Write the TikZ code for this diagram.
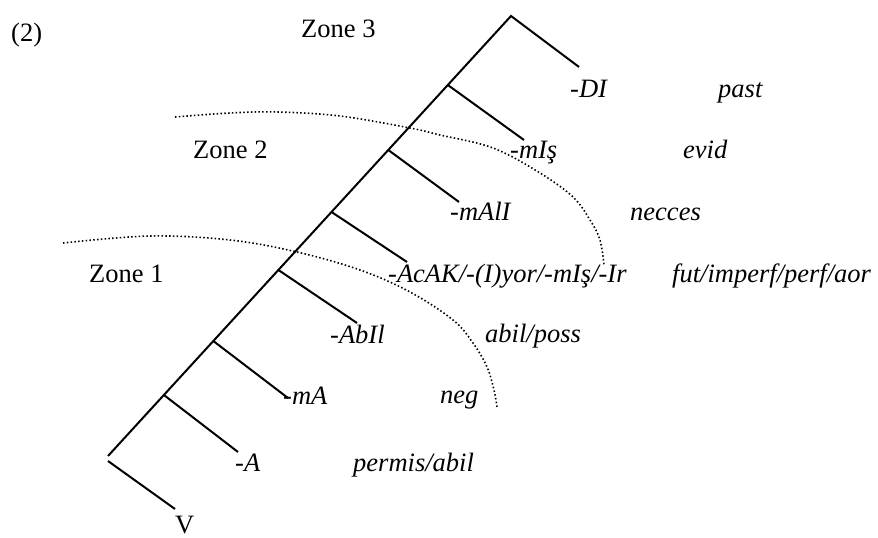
\documentclass[tikz,border=0pt]{standalone}
\usepackage{fontspec}
\setmainfont{Liberation Serif}
\begin{document}
\begin{tikzpicture}[x=1pt,y=-1pt,
  treeline/.style={line width=2pt},
  zoneline/.style={line width=1.6pt, dash pattern=on 1.5pt off 2.3pt},
  lbl/.style={inner sep=0pt, anchor=base west, font=\fontsize{26.5}{30}\selectfont},
  morph/.style={lbl, font=\fontsize{26.5}{30}\selectfont\itshape}]
\useasboundingbox (0,0) rectangle (878,538);
% spine
\coordinate (bot) at (108,456);
\coordinate (top) at (511,16);
\coordinate (tend) at (579,67);
\coordinate (vst) at (108,461);
\coordinate (vend) at (175,509);
\coordinate (s1) at (447.8,85);  \coordinate (e1) at (524,140);
\coordinate (s2) at (388.3,150); \coordinate (e2) at (459,202);
\coordinate (s3) at (331.5,212); \coordinate (e3) at (407,262);
\coordinate (s4) at (278.4,270); \coordinate (e4) at (357,323);
\coordinate (s5) at (213.3,341); \coordinate (e5) at (288,398);
\coordinate (s6) at (163.9,395); \coordinate (e6) at (238,452);
\draw[treeline] (bot) -- (top) -- (tend);
\draw[treeline] (vst) -- (vend);
\draw[treeline] (s1) -- (e1);
\draw[treeline] (s2) -- (e2);
\draw[treeline] (s3) -- (e3);
\draw[treeline] (s4) -- (e4);
\draw[treeline] (s5) -- (e5);
\draw[treeline] (s6) -- (e6);
% zone boundaries
\draw[zoneline] plot[smooth, tension=0.6] coordinates {(175,117) (230,113) (277,112) (340,116) (410,128) (440,135) (493,148) (540,173) (573,197) (590,220) (600,240) (604,265)};
\draw[zoneline] plot[smooth, tension=0.6] coordinates {(63,243) (150,236) (230,240) (297,252) (360,270) (410,292) (453,320) (473,343) (487,367) (494,390) (497,407)};
% labels
\node[lbl] (num) at (11,41) {(2)};
\node[lbl] (z3) at (301,37) {Zone 3};
\node[lbl] (z2) at (193,158) {Zone 2};
\node[lbl] (z1) at (89,282) {Zone 1};
\node[lbl] (v) at (175,533) {V};
\node[morph] (m1) at (570,97) {-DI};
\node[morph] (g1) at (718,97) {past};
\node[morph] (m2) at (510,158) {-mIş};
\node[morph] (g2) at (683,158) {evid};
\node[morph] (m3) at (450,220) {-mAlI};
\node[morph] (g3) at (630,220) {necces};
\node[morph] (m4) at (388,282) {-AcAK/-(I)yor/-mIş/-Ir};
\node[morph] (g4) at (672,282) {fut/imperf/perf/aor};
\node[morph] (m5) at (330,343) {-AbIl};
\node[morph] (g5) at (485,342) {abil/poss};
\node[morph] (m6) at (283,404) {-mA};
\node[morph] (g6) at (440,403) {neg};
\node[morph] (m7) at (235,471) {-A};
\node[morph] (g7) at (353,471) {permis/abil};
\end{tikzpicture}
\end{document}
